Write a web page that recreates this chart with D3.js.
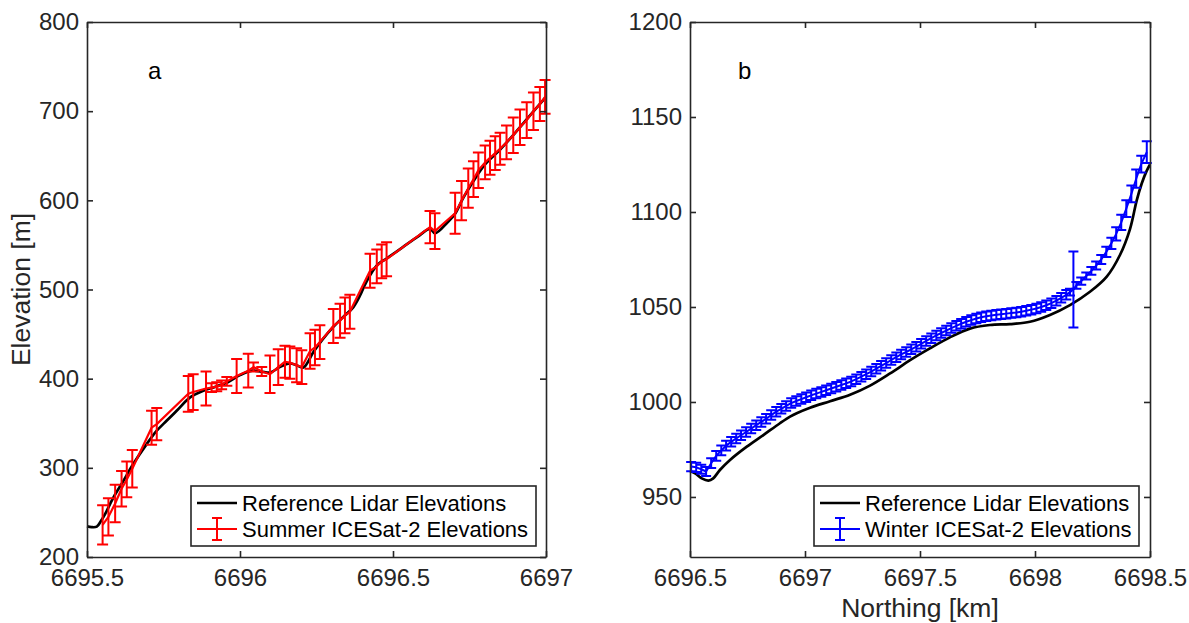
<!DOCTYPE html>
<html>
<head>
<meta charset="utf-8">
<script src="https://cdn.jsdelivr.net/npm/d3@7"></script>
<style>
  html, body { margin: 0; padding: 0; background: #fff; }
  svg { display: block; font-family: "Liberation Sans", Arial, Helvetica, sans-serif; }
</style>
</head>
<body>
<svg id="chart" width="1189" height="623"></svg>
<script>
// ---- Panel a: summer track ----
const refANorthing = [6695.500, 6695.515, 6695.532, 6695.545, 6695.559, 6695.586, 6695.619, 6695.651,
  6695.695, 6695.728, 6695.760, 6695.793, 6695.837, 6695.880, 6695.920, 6695.960, 6696.000, 6696.040,
  6696.070, 6696.100, 6696.130, 6696.163, 6696.185, 6696.207, 6696.240, 6696.270, 6696.305, 6696.340,
  6696.370, 6696.392, 6696.405, 6696.425, 6696.450, 6696.480, 6696.530, 6696.580, 6696.621, 6696.637,
  6696.680, 6696.703, 6696.730, 6696.760, 6696.800, 6696.850, 6696.900, 6696.950, 6697.000];
const refAElev = [234.5, 233.5, 234.0, 240, 248, 266.6, 285.4, 304.2,
  326.6, 341.6, 352.8, 364, 379, 386.5, 391, 396, 404, 409,
  408, 407, 413, 417, 415, 412.5, 430, 444, 458, 470,
  480, 493, 503, 516, 528, 535, 547, 559, 568, 563,
  576, 585, 603, 620, 640, 657, 676, 696, 716];

const summerNorthing = [6695.551, 6695.570, 6695.592, 6695.613, 6695.630, 6695.648, 6695.711, 6695.728,
  6695.831, 6695.847, 6695.889, 6695.907, 6695.924, 6695.940, 6695.957, 6695.989, 6696.027, 6696.044,
  6696.071, 6696.098, 6696.125, 6696.147, 6696.163, 6696.185, 6696.202, 6696.229, 6696.245, 6696.261,
  6696.305, 6696.327, 6696.343, 6696.359, 6696.425, 6696.447, 6696.463, 6696.479, 6696.621, 6696.637,
  6696.703, 6696.724, 6696.746, 6696.763, 6696.779, 6696.801, 6696.817, 6696.834, 6696.850, 6696.871,
  6696.893, 6696.915, 6696.937, 6696.959, 6696.980, 6696.997];
const summerElev = [236, 245, 260, 276.5, 287, 299, 345, 349,
  383, 385, 389, 390, 391, 393, 397, 403, 409, 413,
  408, 405, 413, 419, 418, 415, 413, 431, 435, 441,
  459, 465, 471, 475, 521, 526, 531.5, 534, 570, 565.5,
  585.5, 599.6, 613.6, 623.7, 633.7, 642.6, 647.8, 653, 657.8, 665,
  673, 682, 690, 700, 708, 716];
const summerErr = [22, 21, 21, 20, 20, 21, 19, 18,
  20, 20, 19, 5, 5, 5, 5, 19, 19, 5,
  5, 21, 20, 18, 18, 19, 19, 20, 20, 19,
  19, 19, 20, 19, 19, 19, 19, 19, 18, 20,
  23, 22, 22, 20, 20, 19, 19, 19, 18, 19,
  20, 20, 20, 21, 19, 19];

// ---- Panel b: winter track ----
const refBNorthing = [6696.500, 6696.522, 6696.551, 6696.580, 6696.601, 6696.630, 6696.674, 6696.747,
  6696.819, 6696.891, 6696.935, 6696.964, 6697.022, 6697.109, 6697.196, 6697.283, 6697.370, 6697.457,
  6697.543, 6697.630, 6697.717, 6697.804, 6697.891, 6697.978, 6698.065, 6698.152, 6698.239, 6698.312,
  6698.370, 6698.413, 6698.442, 6698.464, 6698.485, 6698.500];
const refBElev = [963.5, 962.5, 959.8, 958.6, 959.8, 964.2, 969.5, 976.5,
  982.6, 988.8, 992.3, 994.1, 997.0, 1000.4, 1003.8, 1008.6, 1015.0, 1022.0,
  1028.2, 1034.0, 1038.6, 1040.5, 1041.0, 1042.2, 1045.8, 1051.0, 1058.0, 1066.0,
  1077.5, 1091.0, 1106.0, 1115.0, 1121.5, 1125.0];

const winterNorthing = [6696.505, 6696.527, 6696.549, 6696.570, 6696.592, 6696.614, 6696.636, 6696.657,
  6696.679, 6696.701, 6696.722, 6696.744, 6696.766, 6696.788, 6696.810, 6696.831, 6696.853, 6696.875,
  6696.897, 6696.918, 6696.940, 6696.962, 6696.984, 6697.005, 6697.027, 6697.049, 6697.071, 6697.092,
  6697.114, 6697.136, 6697.158, 6697.179, 6697.201, 6697.223, 6697.245, 6697.266, 6697.288, 6697.310,
  6697.331, 6697.353, 6697.375, 6697.397, 6697.418, 6697.440, 6697.462, 6697.484, 6697.505, 6697.527,
  6697.549, 6697.571, 6697.592, 6697.614, 6697.636, 6697.658, 6697.679, 6697.701, 6697.723, 6697.745,
  6697.766, 6697.788, 6697.810, 6697.832, 6697.853, 6697.875, 6697.897, 6697.919, 6697.940, 6697.962,
  6697.984, 6698.006, 6698.027, 6698.049, 6698.071, 6698.093, 6698.114, 6698.136, 6698.152, 6698.167,
  6698.180, 6698.201, 6698.223, 6698.245, 6698.266, 6698.288, 6698.310, 6698.332, 6698.353, 6698.375,
  6698.397, 6698.419, 6698.440, 6698.462, 6698.486];
const winterElev = [966.0, 965.6, 964.6, 963.4, 967.8, 971.6, 974.5, 977.0,
  979.0, 980.8, 982.5, 984.2, 986.0, 987.8, 989.5, 991.2, 993.1, 994.9,
  996.4, 997.9, 999.4, 1000.5, 1001.5, 1002.5, 1003.5, 1004.4, 1005.3, 1006.2,
  1007.1, 1008.0, 1008.9, 1009.8, 1010.8, 1012.0, 1013.3, 1014.6, 1016.0, 1017.5,
  1019.0, 1020.5, 1022.1, 1023.6, 1025.0, 1026.3, 1027.7, 1029.1, 1030.6, 1032.1,
  1033.6, 1035.0, 1036.3, 1037.6, 1038.9, 1040.1, 1041.2, 1042.2, 1043.1, 1043.9,
  1044.6, 1045.1, 1045.5, 1045.9, 1046.2, 1046.5, 1046.8, 1047.1, 1047.5, 1048.0,
  1048.6, 1049.2, 1050.0, 1050.9, 1052.0, 1053.3, 1054.8, 1056.4, 1057.8, 1059.2,
  1061.4, 1063.6, 1066.3, 1069.0, 1071.8, 1075.0, 1079.0, 1083.5, 1088.5, 1094.5,
  1101.8, 1109.5, 1117.5, 1125.2, 1131.5];
const winterErr = [2.4, 2.4, 2.4, 2.4, 2.6, 2.6, 2.6, 2.6,
  2.5, 2.5, 2.5, 2.5, 2.5, 2.5, 2.5, 2.5, 2.5, 2.5,
  2.5, 2.5, 2.5, 2.5, 2.5, 2.5, 2.5, 2.5, 2.5, 2.5,
  2.5, 2.5, 2.5, 2.5, 2.5, 2.5, 2.5, 2.5, 2.5, 2.5,
  2.5, 2.5, 2.5, 2.5, 2.5, 2.5, 2.5, 2.5, 2.5, 2.5,
  2.5, 2.5, 2.5, 2.5, 2.5, 2.5, 2.5, 2.5, 2.5, 2.5,
  2.5, 2.5, 2.5, 2.5, 2.5, 2.5, 2.5, 2.5, 2.5, 2.5,
  2.5, 2.5, 2.5, 2.5, 2.5, 2.5, 2.5, 2.5, 1.8, 20,
  1.8, 1.9, 1.9, 2.0, 2.1, 2.4, 2.7, 3.0, 3.5, 4.0,
  4.4, 4.4, 4.8, 4.4, 5.7];

// ---- Axes ticks and labels ----
const aXTicks = [6695.5, 6696, 6696.5, 6697];
const aYTicks = [200, 300, 400, 500, 600, 700, 800];
const bXTicks = [6696.5, 6697, 6697.5, 6698, 6698.5];
const bYTicks = [950, 1000, 1050, 1100, 1150, 1200];
const legendA = ["Reference Lidar Elevations", "Summer ICESat-2 Elevations"];
const legendB = ["Reference Lidar Elevations", "Winter ICESat-2 Elevations"];

const INK = "#262626";
const svg = d3.select("#chart");

function drawPanel(o) {
  const g = svg.append("g");
  const [x0, x1] = o.x.range();
  const [yb, yt] = o.y.range();

  // reference lidar profile
  g.append("path")
    .datum(d3.zip(o.refN, o.refE))
    .attr("d", d3.line().x(d => o.x(d[0])).y(d => o.y(d[1])).curve(d3.curveCatmullRom.alpha(0.5)))
    .attr("fill", "none").attr("stroke", "#000")
    .attr("stroke-width", 2.7).attr("stroke-linejoin", "round");

  // ICESat-2 elevations with error bars
  const pts = o.satN.map((n, i) => ({ n, e: o.satE[i], s: o.satErr[i] }));
  g.append("path")
    .datum(pts)
    .attr("d", d3.line().x(d => o.x(d.n)).y(d => o.y(d.e)))
    .attr("fill", "none").attr("stroke", o.color)
    .attr("stroke-width", o.lineW).attr("stroke-linejoin", "round");
  g.append("g").attr("stroke", o.color).attr("stroke-width", o.barW).attr("fill", "none")
    .selectAll("path").data(pts).join("path")
    .attr("d", d => {
      const cx = o.x(d.n), t = o.y(d.e + d.s), b = o.y(d.e - d.s), c = o.cap;
      return `M${cx},${t}V${b}M${cx - c},${t}H${cx + c}M${cx - c},${b}H${cx + c}`;
    });

  // box axes with inward ticks
  const fmt = d => String(d);
  const axes = [
    { a: d3.axisBottom(o.x).tickValues(o.xt).tickFormat(fmt), t: `translate(0,${yb})` },
    { a: d3.axisTop(o.x).tickValues(o.xt).tickFormat(""), t: `translate(0,${yt})` },
    { a: d3.axisLeft(o.y).tickValues(o.yt).tickFormat(fmt), t: `translate(${x0},0)` },
    { a: d3.axisRight(o.y).tickValues(o.yt).tickFormat(""), t: `translate(${x1},0)` }
  ];
  axes.forEach(({ a, t }, i) => {
    const ax = g.append("g").attr("transform", t)
      .call(a.tickSizeInner(-6).tickSizeOuter(0).tickPadding(i === 0 ? 12 : 8));
    ax.select(".domain").attr("stroke", INK).attr("stroke-width", 1.6);
    ax.selectAll(".tick line").attr("stroke", INK).attr("stroke-width", 1.6);
    ax.selectAll(".tick text").attr("fill", INK).attr("font-size", 24)
      .attr("font-family", "Liberation Sans, Arial, Helvetica, sans-serif");
  });

  // panel letter
  g.append("text").attr("x", o.letterX).attr("y", yt + 57)
    .attr("font-size", 24).attr("fill", "#000").text(o.letter);

  // legend
  const L = o.legend;
  const lg = g.append("g");
  lg.append("rect").attr("x", L.x).attr("y", L.y).attr("width", L.w).attr("height", 60)
    .attr("fill", "#fff").attr("stroke", INK).attr("stroke-width", 1.6);
  const rows = [L.y + 17, L.y + 43];
  lg.append("line").attr("x1", L.x + 6).attr("x2", L.x + 46).attr("y1", rows[0]).attr("y2", rows[0])
    .attr("stroke", "#000").attr("stroke-width", 2.7);
  const sx = L.x + 26;
  lg.append("path")
    .attr("d", `M${L.x + 6},${rows[1]}H${L.x + 46}M${sx},${rows[1] - 11}V${rows[1] + 11}` +
      `M${sx - 5},${rows[1] - 11}H${sx + 5}M${sx - 5},${rows[1] + 11}H${sx + 5}`)
    .attr("fill", "none").attr("stroke", o.color).attr("stroke-width", 2);
  L.labels.forEach((txt, i) => {
    lg.append("text").attr("x", L.x + 51).attr("y", rows[i]).attr("dy", "0.36em")
      .attr("font-size", 22).attr("fill", "#000").text(txt);
  });
}

drawPanel({
  x: d3.scaleLinear([6695.5, 6697], [87, 546]),
  y: d3.scaleLinear([200, 800], [557, 22]),
  xt: aXTicks, yt: aYTicks,
  refN: refANorthing, refE: refAElev,
  satN: summerNorthing, satE: summerElev, satErr: summerErr,
  color: "#ff0000", lineW: 2.2, barW: 2, cap: 5.5,
  letter: "a", letterX: 148,
  legend: { x: 191, y: 486, w: 345, labels: legendA }
});

drawPanel({
  x: d3.scaleLinear([6696.5, 6698.5], [690, 1150]),
  y: d3.scaleLinear([918.4, 1200], [557, 22]),
  xt: bXTicks, yt: bYTicks,
  refN: refBNorthing, refE: refBElev,
  satN: winterNorthing, satE: winterElev, satErr: winterErr,
  color: "#0000ff", lineW: 2, barW: 2, cap: 5,
  letter: "b", letterX: 738,
  legend: { x: 814, y: 486, w: 325, labels: legendB }
});

// axis titles
svg.append("text")
  .attr("transform", "translate(30,289.5) rotate(-90)")
  .attr("text-anchor", "middle").attr("font-size", 26.5).attr("fill", INK)
  .text("Elevation [m]");
svg.append("text")
  .attr("x", 920).attr("y", 617)
  .attr("text-anchor", "middle").attr("font-size", 26.5).attr("fill", INK)
  .text("Northing [km]");
</script>
</body>
</html>
